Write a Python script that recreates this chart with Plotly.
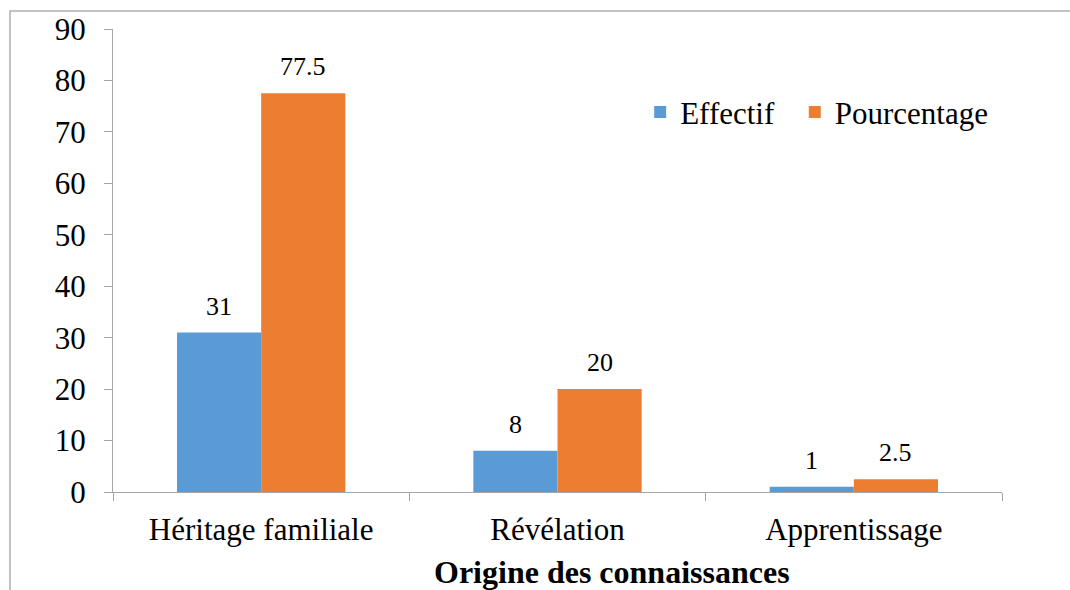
import plotly.graph_objects as go

categories = ["Héritage familiale", "Révélation", "Apprentissage"]
effectif = [31, 8, 1]
pourcentage = [77.5, 20, 2.5]
y_ticks = [0, 10, 20, 30, 40, 50, 60, 70, 80, 90]

BLUE = "#5B9BD5"
ORANGE = "#ED7D31"
GRAY = "#A6A6A6"
FONT = "Liberation Serif"

fig = go.Figure()
fig.add_trace(go.Bar(name="Effectif\u00a0\u00a0", x=categories, y=effectif, marker_color=BLUE,
                     marker_line_width=0))
fig.add_trace(go.Bar(name="Pourcentage", x=categories, y=pourcentage, marker_color=ORANGE,
                     marker_line_width=0))

# data labels
for vals, shift in ((effectif, -42), (pourcentage, 42)):
    for c, v in zip(categories, vals):
        fig.add_annotation(x=c, y=v, text=str(v), showarrow=False, xshift=shift,
                           yanchor="bottom", yshift=10,
                           font=dict(family=FONT, size=26, color="black"))

# x axis title
fig.add_annotation(xref="paper", yref="paper", x=0.561, y=-0.173,
                   text="<b>Origine des connaissances</b>", showarrow=False,
                   xanchor="center", yanchor="middle",
                   font=dict(family=FONT, size=32, color="black"))

# outer border
fig.add_shape(type="rect", xref="paper", yref="paper",
              x0=-0.1159, x1=1.3, y0=-0.5, y1=1.0389,
              line=dict(color="#B0B0B0", width=1.5), layer="below")

fig.update_layout(
    width=1070, height=590,
    margin=dict(l=113, r=68, t=29, b=98),
    paper_bgcolor="white", plot_bgcolor="white",
    barmode="group", bargap=0.432, bargroupgap=0,
    font=dict(family=FONT, color="black"),
    showlegend=True,
    legend=dict(orientation="h", x=0.593, y=0.82, xanchor="left", yanchor="middle",
                font=dict(family=FONT, size=31), bgcolor="rgba(0,0,0,0)",
                itemclick=False),
)
fig.update_xaxes(type="category", range=[-0.5, 2.5], showline=True, linecolor=GRAY,
                 linewidth=1.3, ticks="outside", tickson="boundaries", ticklen=8,
                 tickcolor=GRAY, tickwidth=1.3, showgrid=False,
                 tickfont=dict(family=FONT, size=31), ticklabelstandoff=10)
fig.update_yaxes(range=[0, 90], tickvals=y_ticks, showline=True, linecolor=GRAY,
                 linewidth=1.3, ticks="outside", ticklen=8, tickcolor=GRAY,
                 tickwidth=1.3, showgrid=False, zeroline=False,
                 tickfont=dict(family=FONT, size=31), ticklabelstandoff=12)

fig.write_html("out.html", config={"displayModeBar": False},
               post_script="document.body.style.margin='0px';document.body.style.overflow='hidden';")
